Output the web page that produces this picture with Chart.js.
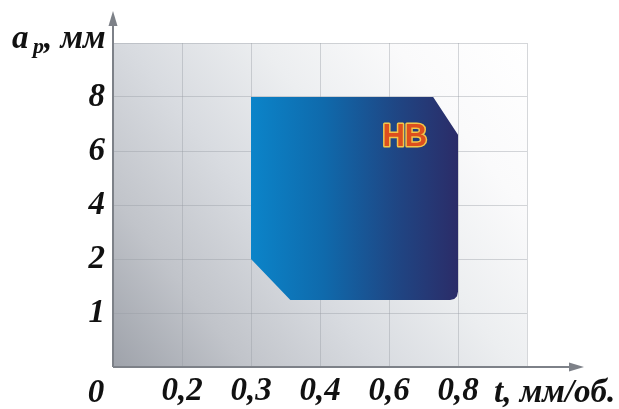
<!DOCTYPE html>
<html>
<head>
<meta charset="utf-8">
<script src="https://cdn.jsdelivr.net/npm/chart.js@4.4.1/dist/chart.umd.min.js"></script>
<style>
  html, body { margin: 0; padding: 0; background: #ffffff; }
  #wrap { width: 619px; height: 409px; }
</style>
</head>
<body>
<div id="wrap"><canvas id="c" width="619" height="409"></canvas></div>
<script>
// ---- data ----
const xTickValues = [0, 0.2, 0.3, 0.4, 0.6, 0.8];        // feed t, mm/rev (gridline values)
const xTickLabels = ['', '0,2', '0,3', '0,4', '0,6', '0,8', ''];
const yTickValues = [0, 1, 2, 4, 6, 8];                   // depth a_p, mm
const yTickLabels = ['', '1', '2', '4', '6', '8', ''];
const originLabel = '0';
const xTitle = 't, мм/об.';
const yTitleMain = 'a';
const yTitleSub = 'p';
const yTitleRest = ', мм';

// working area outline (feed t, depth a_p)
const areaFeed  = [0.3, 0.728, 0.8, 0.8, 0.797, 0.789, 0.777, 0.357, 0.3, 0.3];
const areaDepth = [8,   8,     6.6, 1.40, 1.31, 1.26, 1.24, 1.24,  2,   8];

const areaName = 'HB';
const areaNameFeed = 0.646;
const areaNameDepth = 6.5;

// map a real value onto the gridline index scale (non-uniform axis)
function toIndex(v, vals) {
  for (let i = 0; i < vals.length - 1; i++) {
    if (v <= vals[i + 1]) {
      return i + (v - vals[i]) / (vals[i + 1] - vals[i]);
    }
  }
  const n = vals.length - 1;
  return n - 1 + (v - vals[n - 1]) / (vals[n] - vals[n - 1]);
}

const areaPoints = areaFeed.map((f, i) => ({ x: toIndex(f, xTickValues), y: toIndex(areaDepth[i], yTickValues) }));

const FONT_FAMILY = '"Liberation Serif", "Times New Roman", serif';

const bgPlugin = {
  id: 'bg',
  beforeDraw(chart) {
    const { ctx, chartArea: a } = chart;
    const g = ctx.createLinearGradient(a.left, a.bottom, a.right, a.top);
    g.addColorStop(0, '#9ea2aa');
    g.addColorStop(0.2, '#c1c4ca');
    g.addColorStop(0.4, '#d8dbe0');
    g.addColorStop(0.6, '#eceef0');
    g.addColorStop(0.8, '#fafafb');
    g.addColorStop(1, '#ffffff');
    ctx.save();
    ctx.fillStyle = g;
    ctx.fillRect(a.left, a.top, a.right - a.left, a.bottom - a.top);
    ctx.restore();
  },
  afterDraw(chart) {
    const { ctx, chartArea: a, scales } = chart;
    const xs = scales.x, ys = scales.y;
    const ox = xs.getPixelForValue(0), oy = ys.getPixelForValue(0);
    ctx.save();
    // axes
    ctx.strokeStyle = '#7d8188';
    ctx.fillStyle = '#7d8188';
    ctx.lineWidth = 2;
    ctx.beginPath();
    ctx.moveTo(ox, oy);
    ctx.lineTo(ox, 22);
    ctx.moveTo(ox, oy);
    ctx.lineTo(574, oy);
    ctx.stroke();
    // arrows
    ctx.beginPath();
    ctx.moveTo(ox, 11);
    ctx.lineTo(ox - 4.5, 26);
    ctx.lineTo(ox + 4.5, 26);
    ctx.closePath();
    ctx.fill();
    ctx.beginPath();
    ctx.moveTo(584, oy);
    ctx.lineTo(569, oy - 4.5);
    ctx.lineTo(569, oy + 4.5);
    ctx.closePath();
    ctx.fill();

    // titles
    ctx.fillStyle = '#111111';
    ctx.textBaseline = 'alphabetic';
    ctx.textAlign = 'left';
    ctx.font = 'italic bold 33px ' + FONT_FAMILY;
    ctx.fillText(yTitleMain, 12, 48);
    ctx.font = 'italic bold 22px ' + FONT_FAMILY;
    ctx.fillText(yTitleSub, 33, 53);
    ctx.font = 'italic bold 33px ' + FONT_FAMILY;
    ctx.fillText(yTitleRest, 44, 48);
    ctx.fillText(xTitle, 494, 402);
    ctx.textAlign = 'center';
    ctx.fillText(originLabel, ox - 17, 402);

    // area name
    const hx = xs.getPixelForValue(toIndex(areaNameFeed, xTickValues));
    const hy = ys.getPixelForValue(toIndex(areaNameDepth, yTickValues));
    ctx.font = 'bold 31px "Liberation Sans", Arial, sans-serif';
    ctx.textAlign = 'center';
    ctx.textBaseline = 'middle';
    ctx.lineJoin = 'round';
    ctx.lineWidth = 3;
    ctx.strokeStyle = '#f3c64a';
    ctx.strokeText(areaName, hx, hy);
    ctx.fillStyle = '#dd4f1e';
    ctx.fillText(areaName, hx, hy);
    ctx.restore();
  }
};

new Chart(document.getElementById('c'), {
  type: 'scatter',
  data: {
    datasets: [{
      label: areaName,
      data: areaPoints,
      showLine: true,
      fill: 'shape',
      tension: 0,
      pointRadius: 0,
      borderWidth: 1,
      borderColor: 'rgba(0,0,0,0)',
      backgroundColor: (ctx) => {
        const chart = ctx.chart;
        const a = chart.chartArea;
        if (!a) return '#1a5d9c';
        const xs = chart.scales.x;
        const x0 = xs.getPixelForValue(toIndex(0.3, xTickValues));
        const x1 = xs.getPixelForValue(toIndex(0.8, xTickValues));
        const g = chart.ctx.createLinearGradient(x0, 0, x1, 0);
        g.addColorStop(0, '#0b84c9');
        g.addColorStop(0.35, '#0f6aac');
        g.addColorStop(0.7, '#1f4684');
        g.addColorStop(1, '#2b2c68');
        return g;
      }
    }]
  },
  options: {
    responsive: false,
    animation: false,
    events: [],
    layout: { padding: { top: 43, right: 92, left: 0, bottom: 0 } },
    plugins: { legend: { display: false }, tooltip: { enabled: false } },
    scales: {
      x: {
        type: 'linear',
        min: 0, max: 6,
        afterFit(s) { s.height = 42; },
        grid: { color: 'rgba(150,155,162,0.4)', lineWidth: 1, drawTicks: false },
        border: { display: false },
        ticks: {
          stepSize: 1,
          padding: 5,
          color: '#111111',
          font: { family: FONT_FAMILY, size: 33, style: 'italic', weight: 'bold' },
          maxRotation: 0,
          autoSkip: false,
          callback: (v) => xTickLabels[v] ?? ''
        }
      },
      y: {
        type: 'linear',
        min: 0, max: 6,
        afterFit(s) { s.width = 113; },
        grid: { color: 'rgba(150,155,162,0.4)', lineWidth: 1, drawTicks: false },
        border: { display: false },
        ticks: {
          stepSize: 1,
          padding: 8,
          color: '#111111',
          font: { family: FONT_FAMILY, size: 33, style: 'italic', weight: 'bold' },
          autoSkip: false,
          callback: (v) => yTickLabels[v] ?? ''
        }
      }
    }
  },
  plugins: [bgPlugin]
});
</script>
</body>
</html>
